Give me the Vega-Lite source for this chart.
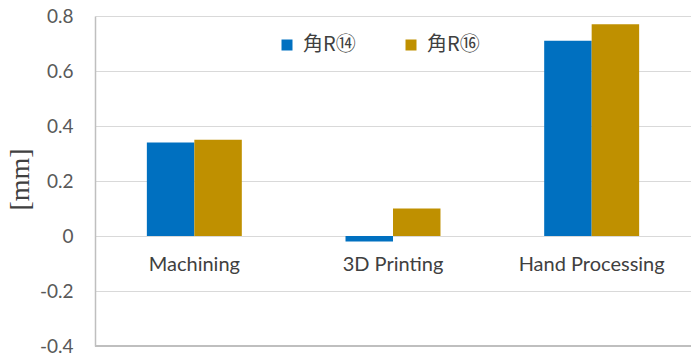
{
  "$schema": "https://vega.github.io/schema/vega-lite/v6.json",
  "width": 596,
  "height": 330,
  "autosize": {"type": "none"},
  "padding": {"left": 95, "top": 16, "right": 0, "bottom": 10},
  "config": {
    "view": {"stroke": null},
    "font": "Lato"
  },
  "data": {
    "values": [
      {"process": "Machining", "series": "角R⑭", "value": 0.34},
      {"process": "Machining", "series": "角R⑯", "value": 0.35},
      {"process": "3D Printing", "series": "角R⑭", "value": -0.02},
      {"process": "3D Printing", "series": "角R⑯", "value": 0.10},
      {"process": "Hand Processing", "series": "角R⑭", "value": 0.71},
      {"process": "Hand Processing", "series": "角R⑯", "value": 0.77}
    ]
  },
  "layer": [
    {
      "mark": {"type": "bar"},
      "encoding": {
        "x": {
          "field": "process",
          "type": "nominal",
          "sort": ["Machining", "3D Printing", "Hand Processing"],
          "scale": {"paddingInner": 0.522, "paddingOuter": 0.261},
          "axis": {
            "title": null,
            "labelAngle": 0,
            "domain": false,
            "ticks": false,
            "grid": false,
            "offset": -110,
            "labelPadding": 18,
            "labelFont": "Lato",
            "labelFontSize": 20,
            "labelColor": "#404040"
          }
        },
        "xOffset": {"field": "series", "sort": ["角R⑭", "角R⑯"]},
        "y": {
          "field": "value",
          "type": "quantitative",
          "scale": {"domain": [-0.4, 0.8], "nice": false},
          "axis": {
            "title": "[mm]",
            "titleFont": "Liberation Serif",
            "titleFontSize": 28,
            "titleFontWeight": "normal",
            "titleColor": "#404040",
            "titleX": -75,
            "titleY": 163,
            "titleAngle": -90,
            "titleAlign": "center",
            "titleBaseline": "middle",
            "values": [-0.4, -0.2, 0, 0.2, 0.4, 0.6, 0.8],
            "labelExpr": "replace(format(datum.value, '~g'), '−', '-')",
            "labelFont": "Lato",
            "labelFontSize": 19,
            "labelColor": "#595959",
            "labelPadding": 22,
            "ticks": false,
            "domainColor": "#bfbfbf",
            "domainWidth": 1.5,
            "gridColor": "#d9d9d9",
            "gridWidth": 1
          }
        },
        "color": {
          "field": "series",
          "type": "nominal",
          "sort": ["角R⑭", "角R⑯"],
          "scale": {"range": ["#0070C0", "#BF9000"]},
          "legend": {
            "title": null,
            "orient": "none",
            "direction": "horizontal",
            "legendX": 182,
            "legendY": 19,
            "symbolType": "square",
            "symbolSize": 121,
            "symbolStrokeWidth": 0,
            "labelFont": "Noto Sans CJK JP",
            "labelFontSize": 20,
            "labelColor": "#404040",
            "labelOffset": 6,
            "columnPadding": 45
          }
        }
      }
    },
    {
      "mark": {"type": "rule", "color": "#bfbfbf", "strokeWidth": 1.5},
      "encoding": {"y": {"datum": -0.4}}
    }
  ]
}
